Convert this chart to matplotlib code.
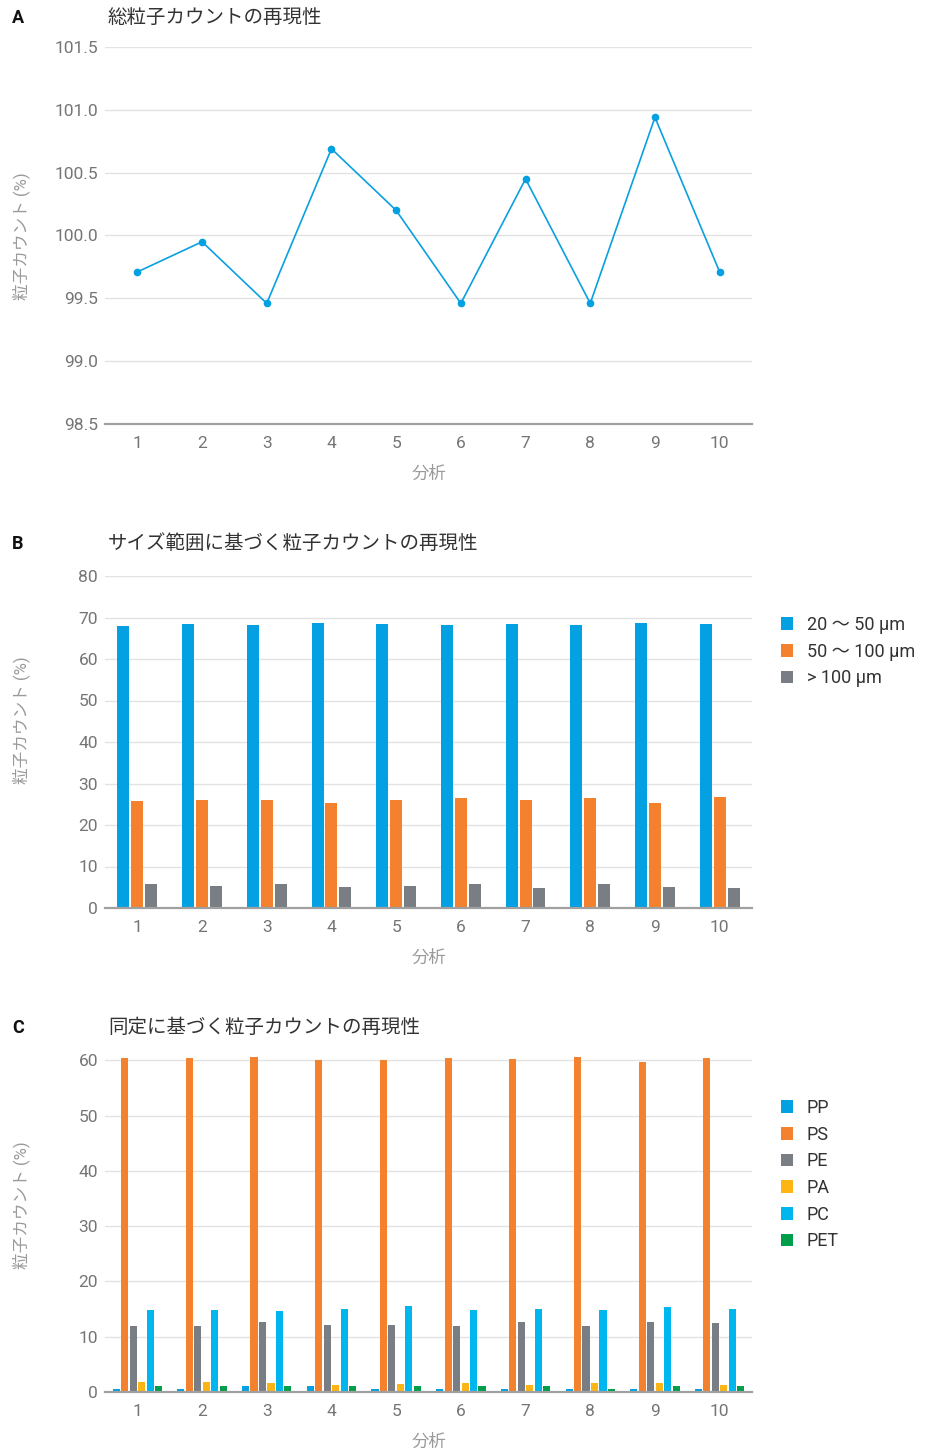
import matplotlib
matplotlib.use("Agg")
import matplotlib.pyplot as plt
import numpy as np
from matplotlib.patches import Patch

plt.rcParams['font.family'] = ['Roboto', 'Noto Sans CJK JP', 'DejaVu Sans']

# ---- data ----
analyses = [1, 2, 3, 4, 5, 6, 7, 8, 9, 10]

total_count = [99.71, 99.95, 99.46, 100.69, 100.20, 99.46, 100.45, 99.46, 100.94, 99.71]

size_labels = ['20 〜 50 µm', '50 〜 100 µm', '> 100 µm']
size_20_50 = [68.0, 68.5, 68.3, 68.7, 68.5, 68.3, 68.5, 68.3, 68.7, 68.5]
size_50_100 = [25.9, 26.1, 26.1, 25.4, 26.1, 26.4, 26.1, 26.4, 25.4, 26.7]
size_100 = [5.9, 5.2, 5.9, 5.0, 5.2, 5.9, 4.7, 5.9, 5.0, 4.7]

polymer_labels = ['PP', 'PS', 'PE', 'PA', 'PC', 'PET']
pp = [0.6, 0.6, 1.0, 1.0, 0.6, 0.6, 0.6, 0.6, 0.6, 0.6]
ps = [60.5, 60.5, 60.7, 60.0, 60.0, 60.4, 60.2, 60.7, 59.8, 60.5]
pe = [12.0, 12.0, 12.6, 12.2, 12.2, 12.0, 12.6, 12.0, 12.6, 12.4]
pa = [1.9, 1.9, 1.7, 1.3, 1.5, 1.7, 1.3, 1.7, 1.7, 1.3]
pc = [14.8, 14.8, 14.6, 15.1, 15.5, 14.9, 15.1, 14.9, 15.3, 15.1]
pet = [1.0, 1.0, 1.0, 1.0, 1.0, 1.0, 1.0, 0.6, 1.0, 1.0]

size_colors = ['#03A0E2', '#F3812D', '#797D84']
polymer_colors = ['#03A0E2', '#F3812D', '#797D84', '#FDB515', '#00B6EF', '#009E4A']

TICK_C = '#757575'
LABEL_C = '#9A9A9A'
GRID_C = '#E3E3E3'
AXIS_C = '#A0A0A0'

W, H = 931, 1452
fig = plt.figure(figsize=(W / 100, H / 100), dpi=100)


def frac_box(left, top, right, bottom):
    return [left / W, 1 - bottom / H, (right - left) / W, (bottom - top) / H]


def style_axes(ax):
    ax.set_facecolor('white')
    for s in ['top', 'right', 'left']:
        ax.spines[s].set_visible(False)
    ax.spines['bottom'].set_color(AXIS_C)
    ax.spines['bottom'].set_linewidth(1.6)
    ax.grid(axis='y', color=GRID_C, linewidth=1.0)
    ax.set_axisbelow(True)
    ax.tick_params(axis='both', length=0, labelsize=12.5, colors=TICK_C)
    ax.tick_params(axis='y', pad=5)
    ax.tick_params(axis='x', pad=9)
    ax.set_xlim(0.5, 10.5)
    ax.set_xticks(analyses)
    ax.set_xlabel('分析', fontsize=12.5, color=LABEL_C, labelpad=10)


def panel_text(letter, title, y_px):
    fig.text(12 / W, 1 - y_px / H, letter, fontsize=13, fontweight='bold',
             color='#111111', va='center', ha='left')
    fig.text(108 / W, 1 - y_px / H, title, fontsize=14, color='#333333',
             va='center', ha='left')


def ylabel_text(yc_px):
    fig.text(22 / W, 1 - yc_px / H, '粒子カウント (%)', fontsize=12, color=LABEL_C,
             rotation=90, va='center', ha='center')


def side_legend(colors, labels, top_px):
    handles = [Patch(facecolor=c, edgecolor='none') for c in colors]
    fig.legend(handles, labels, loc='upper left', bbox_to_anchor=(781 / W, 1 - top_px / H),
               frameon=False, fontsize=13, handlelength=0.68, handleheight=0.68,
               handletextpad=0.75, labelspacing=0.48, borderaxespad=0, borderpad=0,
               labelcolor='#333333')


# ---- A: total particle count ----
axA = fig.add_axes(frac_box(105, 47, 752, 424))
style_axes(axA)
axA.plot(analyses, total_count, color='#0AA0E0', linewidth=1.2,
         marker='o', markersize=5.5, markerfacecolor='#03A0E2', markeredgewidth=0)
axA.set_ylim(98.5, 101.5)
yt = np.arange(98.5, 101.51, 0.5)
axA.set_yticks(yt)
axA.set_yticklabels([f'{v:.1f}' for v in yt])
panel_text('A', '総粒子カウントの再現性', 18)
ylabel_text(236)

# ---- B: by size range ----
axB = fig.add_axes(frac_box(105, 576, 752, 908))
style_axes(axB)
x = np.array(analyses, dtype=float)
bw, step = 0.185, 0.215
for i, (vals, col, lab) in enumerate(zip([size_20_50, size_50_100, size_100], size_colors, size_labels)):
    axB.bar(x + (i - 1) * step, vals, width=bw, color=col, label=lab, linewidth=0)
axB.set_ylim(0, 80)
axB.set_yticks(range(0, 81, 10))
panel_text('B', 'サイズ範囲に基づく粒子カウントの再現性', 544)
ylabel_text(720)
side_legend(size_colors, size_labels, 616)

# ---- C: by polymer identification ----
axC = fig.add_axes(frac_box(105, 1055.5, 752, 1392))
style_axes(axC)
bwC, stepC = 0.11, 0.131
series_c = [pp, ps, pe, pa, pc, pet]
for i, (vals, col, lab) in enumerate(zip(series_c, polymer_colors, polymer_labels)):
    axC.bar(x + (i - 2.5) * stepC, vals, width=bwC, color=col, label=lab, linewidth=0)
axC.set_ylim(0, 60.9)
axC.set_yticks(range(0, 61, 10))
panel_text('C', '同定に基づく粒子カウントの再現性', 1028)
ylabel_text(1205)
side_legend(polymer_colors, polymer_labels, 1099)

fig.savefig('out.png', dpi=100, facecolor='white')
